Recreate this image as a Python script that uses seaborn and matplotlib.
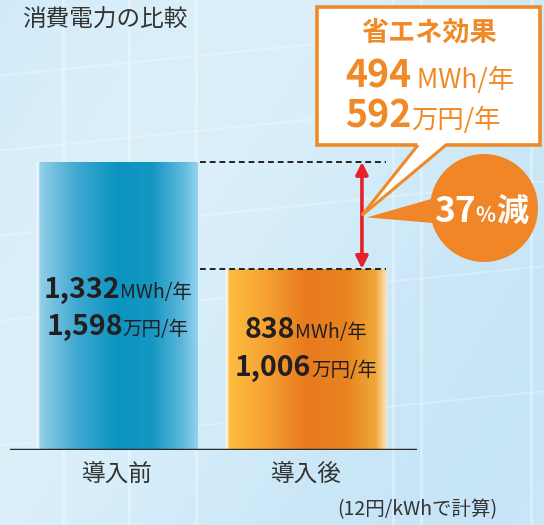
import numpy as np
import pandas as pd
import seaborn as sns
import matplotlib.pyplot as plt
from matplotlib.colors import LinearSegmentedColormap
from matplotlib.patches import Rectangle, Circle, Polygon

# Data
categories = ['導入前', '導入後']
energy_mwh = [1332, 838]
cost_man_yen = [1598, 1006]
saving_mwh = 494
saving_man_yen = 592
reduction_pct = 37
title = '消費電力の比較'
box_title = '省エネ効果'
footnote = '(12円/kWhで計算)'

sns.set_theme(style='white')
plt.rcParams['font.family'] = ['Noto Sans CJK JP', 'DejaVu Sans']

W, H = 544, 525
fig = plt.figure(figsize=(W / 100, H / 100), dpi=100)
fig.patch.set_facecolor('#d3ebf8')

# Background: soft glassy gradient with faint window frames
bg = fig.add_axes([0, 0, 1, 1])
bg.axis('off')
yy, xx = np.mgrid[0:H, 0:W]
light = 0.5 + 0.5 * np.sin((xx + yy * 0.6) / 160.0)
img = np.zeros((H, W, 3))
top = np.array([0.86, 0.94, 0.98])
low = np.array([0.78, 0.90, 0.97])
for c in range(3):
    img[..., c] = low[c] + (top[c] - low[c]) * light
for vx in [62, 128, 195, 392, 420, 530]:
    img[:, vx:vx + 3] = img[:, vx:vx + 3] * 0.7 + 0.3
for y0 in [75, 150, 235, 320, 445]:
    ys = (y0 - 0.1 * xx[0]).astype(int)
    for dy in range(2):
        ok = (ys + dy >= 0) & (ys + dy < H)
        img[ys[ok] + dy, xx[0][ok]] = img[ys[ok] + dy, xx[0][ok]] * 0.75 + 0.25
bg.imshow(img, extent=(0, W, H, 0), aspect='auto')
bg.set_xlim(0, W)
bg.set_ylim(H, 0)

# Main bar axes (baseline at y=450 px)
base_px = 450
ax = fig.add_axes([10 / W, (H - base_px) / H, 407 / W, base_px / H])
ax.patch.set_alpha(0)
df = pd.DataFrame({'stage': categories, 'mwh': energy_mwh})
sns.barplot(data=df, x='stage', y='mwh', ax=ax, width=0.85, color='#1196c3')

blue_cmap = LinearSegmentedColormap.from_list('b', [
    (0.0, '#ffffff'), (0.02, '#92cde8'), (0.25, '#3ea8d0'), (0.5, '#0b94c0'),
    (0.72, '#1597c3'), (0.9, '#5cb7dc'), (1.0, '#92d3ee')])
orange_cmap = LinearSegmentedColormap.from_list('o', [
    (0.0, '#ffffff'), (0.02, '#fdbc3f'), (0.25, '#f6a232'), (0.5, '#e8791e'),
    (0.75, '#e8841f'), (0.93, '#efa737'), (1.0, '#fde4c0')])

for patch, cmap in zip(ax.patches, [blue_cmap, orange_cmap]):
    x0, w, h = patch.get_x(), patch.get_width(), patch.get_height()
    im = ax.imshow(np.linspace(0, 1, 256)[None, :], cmap=cmap,
                   extent=(x0, x0 + w, 0, h), aspect='auto', zorder=2)
    im.set_clip_path(patch)
    patch.set_facecolor('none')
    patch.set_edgecolor('none')

ax.set_xlim(-0.570, -0.570 + 407 / 188.5)
ax.set_ylim(0, energy_mwh[0] * base_px / 288)
for s in ax.spines.values():
    s.set_visible(False)
ax.axhline(0, color='#2b2b2b', lw=2.5, zorder=3)
ax.set_xlabel('')
ax.set_ylabel('')
ax.set_yticks([])
ax.tick_params(axis='x', length=0, pad=9, labelsize=17, colors='#333333')

# dashed guide lines and red double arrow
half = 0.85 / 2
ax.hlines(energy_mwh, half + 0.013, 1 + half, colors='#222222', lw=1.4,
          linestyles=(0, (3, 2)), zorder=4)
arrow_x = 1.297
ax.annotate('', xy=(arrow_x, energy_mwh[0]), xytext=(arrow_x, energy_mwh[1]),
            arrowprops=dict(arrowstyle='<|-|>', color='#e62129', lw=2.6,
                            mutation_scale=18, shrinkA=0, shrinkB=0), zorder=5)

# Overlay in pixel coordinates
ov = fig.add_axes([0, 0, 1, 1])
ov.set_xlim(0, W)
ov.set_ylim(H, 0)
ov.axis('off')
ov.patch.set_alpha(0)

to_px = lambda x, y: ov.transData.inverted().transform(ax.transData.transform((x, y)))
tip = to_px(arrow_x, (energy_mwh[0] + energy_mwh[1]) / 2)

renderer = fig.canvas.get_renderer()


def text_width(s, size, weight):
    t = ov.text(0, 0, s, fontsize=size, fontweight=weight)
    w = t.get_window_extent(renderer).width
    t.remove()
    return w


def rich(x, y, parts, color, ha='left'):
    widths = [text_width(s, sz, wt) for s, sz, wt in parts]
    cur = x - sum(widths) / 2 if ha == 'center' else x
    for (s, sz, wt), w in zip(parts, widths):
        ov.text(cur, y, s, fontsize=sz, fontweight=wt, color=color,
                va='baseline', ha='left', zorder=10)
        cur += w


dark = '#231f20'
orange = '#f08a26'
label_offsets = [(152, 115), (112, 74)]
for i in range(2):
    cx, _ = to_px(i, 0)
    o1, o2 = label_offsets[i]
    rich(cx, base_px - o1, [(f'{energy_mwh[i]:,}', 20.5, 'bold'), ('MWh/年', 14, 'normal')], dark, 'center')
    rich(cx, base_px - o2, [(f'{cost_man_yen[i]:,}', 20.5, 'bold'), ('万円/年', 14, 'normal')], dark, 'center')

ov.text(22, 20, title, fontsize=17, va='center', ha='left', color='#333333')

# callout box
ov.add_patch(Rectangle((317, 7), 223, 138, fc='white', ec=orange, lw=2.6, zorder=6))
ov.add_patch(Polygon([(418, 143), (446, 143), tip], closed=True, fc='white', ec='none', zorder=7))
ov.plot([418, tip[0]], [145, tip[1]], color=orange, lw=2.2, zorder=7, solid_capstyle='butt')
ov.plot([446, tip[0]], [145, tip[1]], color=orange, lw=2.2, zorder=7, solid_capstyle='butt')
ov.text(429, 33, box_title, fontsize=19.5, fontweight='bold', color=orange,
        ha='center', va='center', zorder=10)
rich(345, 88, [(f'{saving_mwh}', 27, 'bold'), (' MWh/年', 19, 'normal')], orange)
rich(345, 128, [(f'{saving_man_yen}', 27, 'bold'), ('万円/年', 19, 'normal')], orange)

# reduction circle
ov.add_patch(Polygon([(tip[0] + 5, tip[1] + 2), (445, 195), (445, 224)], closed=True,
                     fc='#f08628', ec='none', zorder=6))
ov.add_patch(Circle((484, 208), 54, fc='#f08628', ec='none', zorder=6))
rich(481, 222, [(f'{reduction_pct}', 25.5, 'bold'), ('%', 15, 'bold'), ('減', 23, 'bold')],
     'white', 'center')

ov.text(337, 510, footnote, fontsize=14, ha='left', va='center', color='#333333')

fig.savefig('out.png', dpi=100)
